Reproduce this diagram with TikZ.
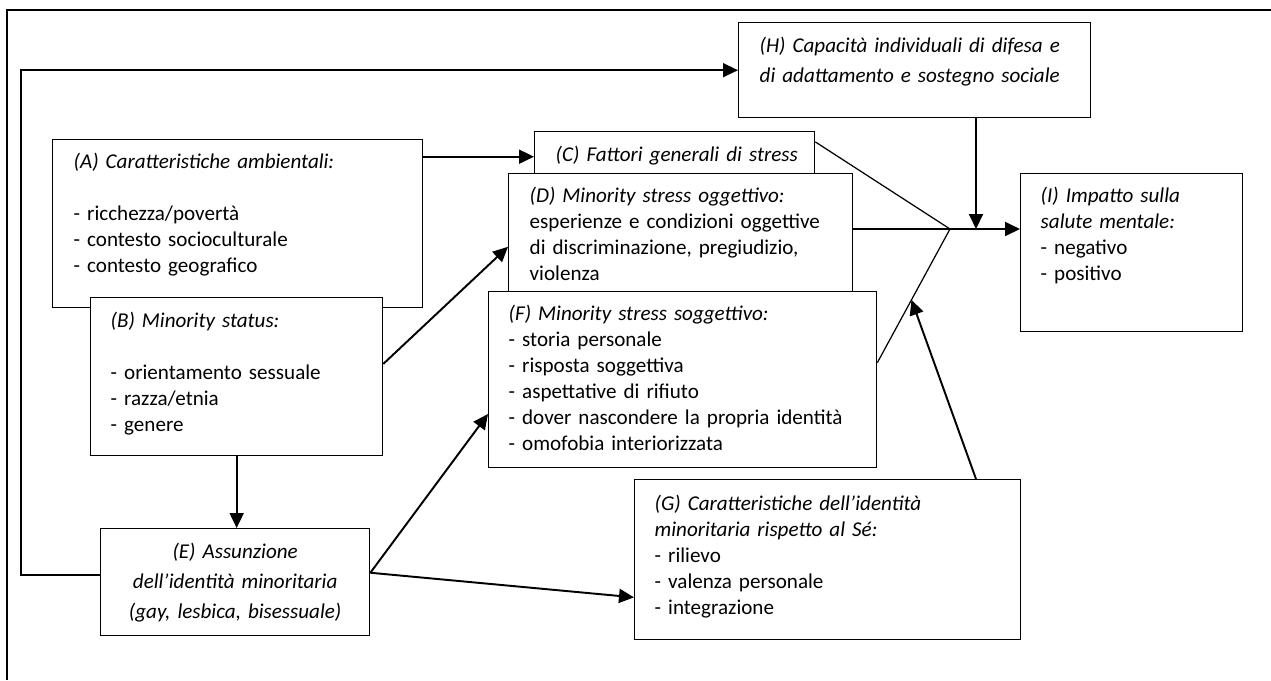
\documentclass[tikz,border=0pt]{standalone}
\usepackage{fontspec}
\setmainfont{Carlito}
\usetikzlibrary{arrows.meta,calc}

\begin{document}
\begin{tikzpicture}[x=0.02cm, y=-0.02cm,
    riquadro/.style={draw, fill=white, line width=0.8pt, anchor=north west, align=left,
      inner ysep=0pt, font=\fontsize{12}{14.76}\selectfont},
    freccia/.style={line width=1.1pt, -{Triangle[length=0.3cm, width=0.28cm]}},
    linea/.style={line width=0.7pt}]
    \useasboundingbox (0,0) rectangle (1271,680);
    % cornice esterna
    \draw[line width=1pt] (7,680) -- (7,10) -- (1271,10);
    % punti di raccordo
    \coordinate (J) at (950,229);
    \coordinate (K) at (976,229);
    \coordinate (Q) at (21,0);
    % riquadri
    \node[riquadro, inner xsep=0.42cm, text width=6.56cm, text height=0.58cm, text depth=2.78cm] (A) at (52,139)
      {\textit{(A) Caratteristiche ambientali:}\\[0.52cm] - ricchezza/povertà\\ - contesto socioculturale\\ - contesto geografico};
    \node[riquadro, inner xsep=0.4cm, text width=5.04cm, text height=0.6cm, text depth=2.56cm] (B) at (90,297)
      {\textit{(B) Minority status:}\\[0.52cm] - orientamento sessuale\\ - razza/etnia\\ - genere};
    \node[riquadro, inner xsep=0.42cm, text width=4.76cm, text height=0.6cm, text depth=0.4cm] (C) at (534,131)
      {\mbox{\textit{(C) Fattori generali di stress}}};
    \node[riquadro, inner xsep=0.42cm, text width=6.04cm, text height=0.58cm, text depth=1.86cm] (D) at (508,173)
      {\textit{(D) Minority stress oggettivo:}\\ esperienze e condizioni oggettive\\ di discriminazione, pregiudizio,\\ violenza};
    \node[riquadro, inner xsep=0.4cm, text width=6.96cm, text height=0.58cm, text depth=2.94cm] (F) at (488,291)
      {\textit{(F) Minority stress soggettivo:}\\ - storia personale\\ - risposta soggettiva\\ - aspettative di rifiuto\\
       - dover nascondere la propria identità\\ - omofobia interiorizzata};
    \node[riquadro, inner xsep=0.4cm, text width=6.92cm, text height=0.62cm, text depth=2.58cm] (G) at (634,479)
      {\textit{(G) Caratteristiche dell’identità}\\ \textit{minoritaria rispetto al Sé:}\\ - rilievo\\ - valenza personale\\ - integrazione};
    \node[riquadro, align=center, inner xsep=0.2cm, text width=4.98cm, text height=0.6cm, text depth=1.54cm,
      font=\fontsize{12}{17.07}\selectfont\itshape] (E) at (100,528)
      {(E) Assunzione\\ dell’identità minoritaria\\ (gay, lesbica, bisessuale)};
    \node[riquadro, inner xsep=0.42cm, text width=6.2cm, text height=0.6cm, text depth=1.3cm,
      font=\fontsize{12}{17.07}\selectfont\itshape] (H) at (738,22)
      {(H) Capacità individuali di difesa e\\ di adattamento e sostegno sociale};
    \node[riquadro, inner xsep=0.4cm, text width=3.64cm, text height=0.58cm, text depth=2.58cm] (I) at (1020,173)
      {\textit{(I) Impatto sulla}\\ \textit{salute mentale:}\\ - negativo\\ - positivo};
    \coordinate (P) at ($(F.5)!0.47!(J)$);
    % connessioni
    \draw[freccia] (A.north east |- C.west) -- (C.west);
    \draw[freccia] (B.5) -- (D.184);
    \draw[freccia] (B.south) -- (B.south |- E.north);
    \draw[freccia] (E.4) -- (F.190);
    \draw[freccia] (E.4) -- (G.191);
    \draw[linea] (C.6) -- (J);
    \draw[linea] (F.5) -- (J);
    \draw[freccia] (D.east |- J) -- (I.west |- J);
    \draw[freccia] (H.south -| K) -- (K);
    \draw[freccia] (G.north -| K) -- (P);
    \draw[freccia, line width=0.8pt] (E.177) -| (Q |- H.west) -- (H.west);
\end{tikzpicture}
\end{document}
